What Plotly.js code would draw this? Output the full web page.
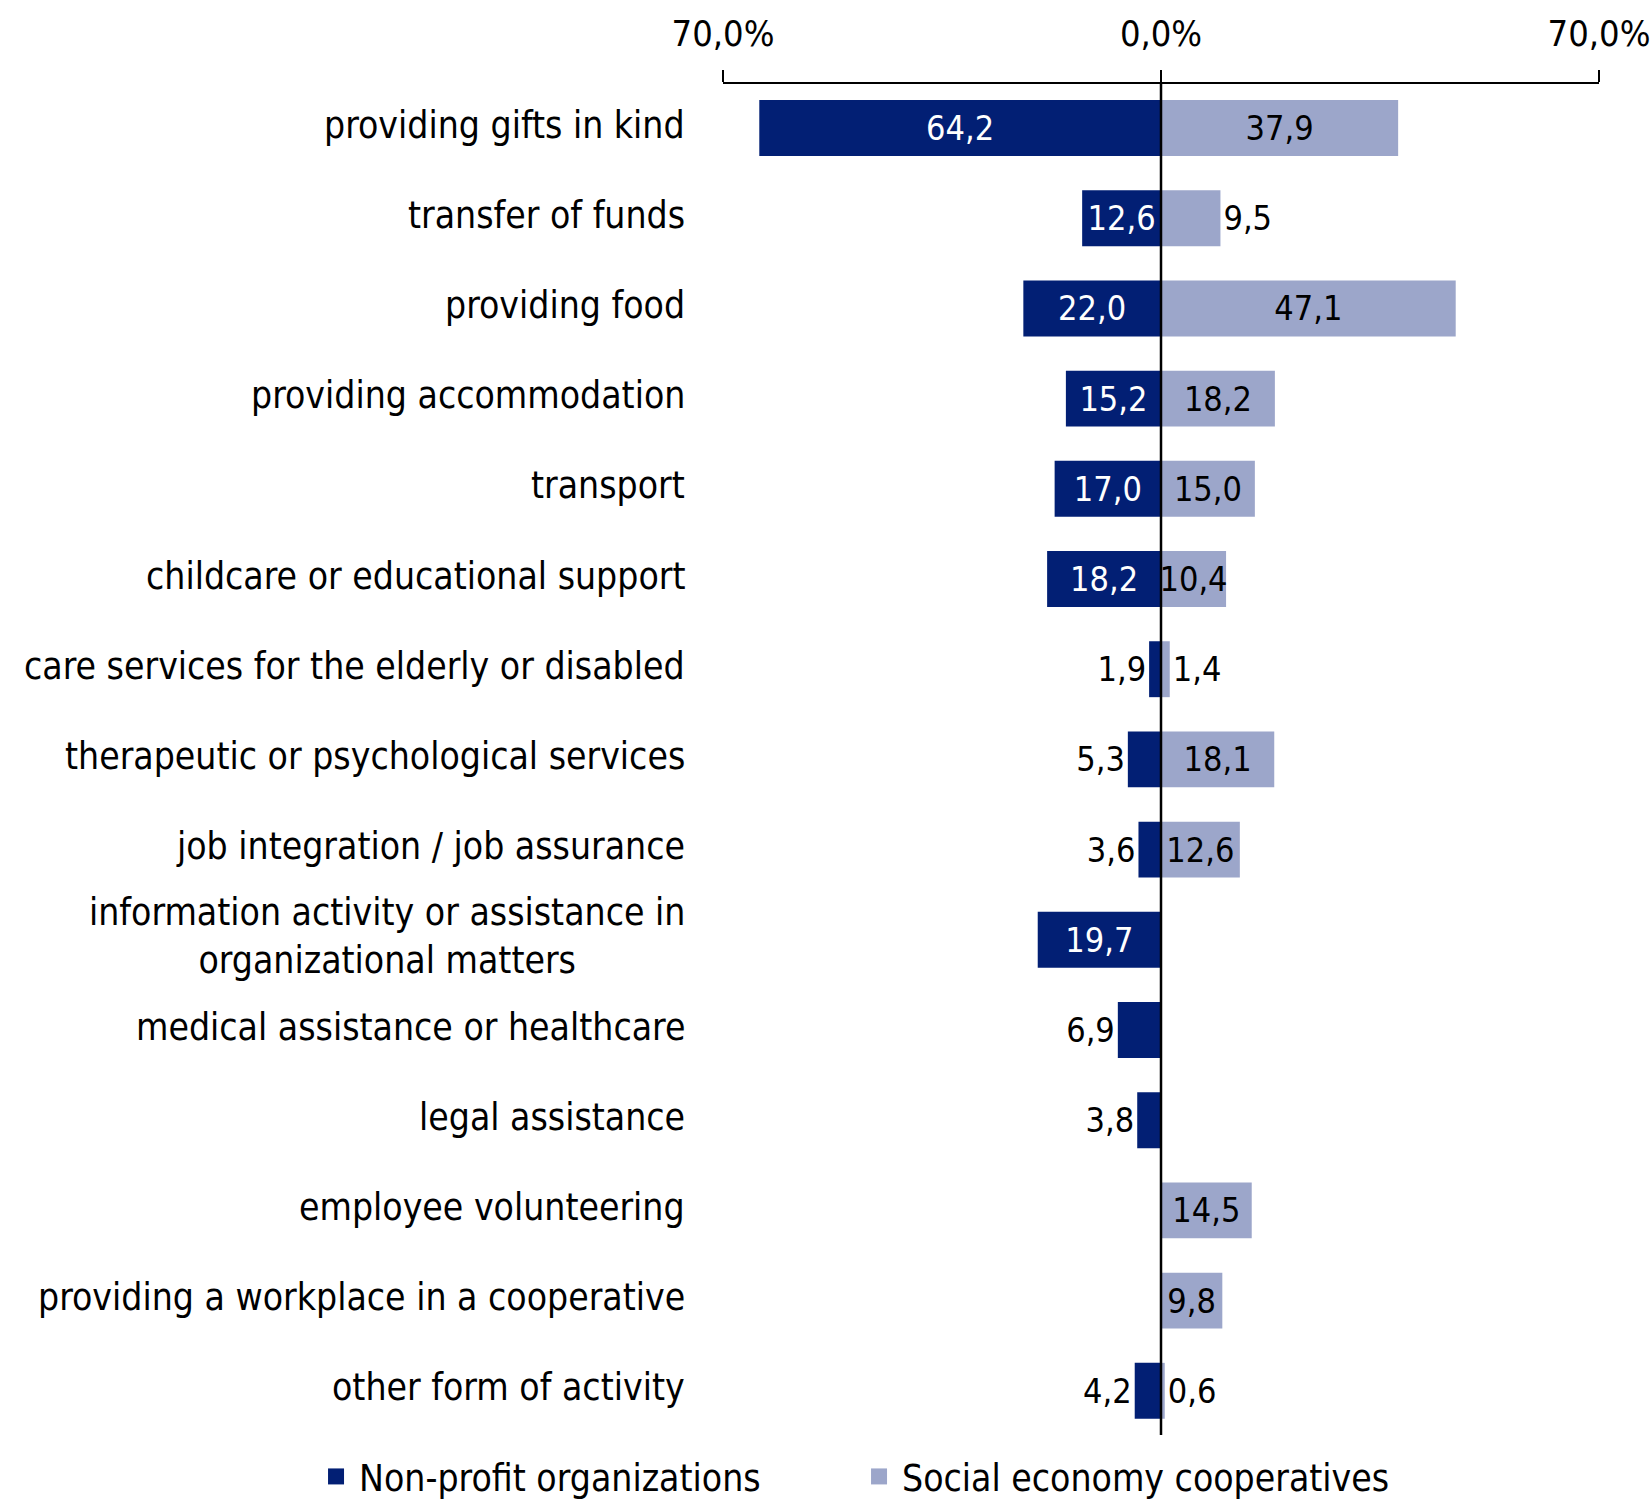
<!DOCTYPE html>
<html>
<head>
<meta charset="utf-8">
<script src="https://cdn.plot.ly/plotly-3.0.1.min.js"></script>
<style>html,body{margin:0;padding:0;background:#fff;}</style>
</head>
<body>
<div id="chart" style="width:1652px;height:1505px;"></div>
<script>
const categories = [
  "providing gifts in kind",
  "transfer of funds",
  "providing food",
  "providing accommodation",
  "transport",
  "childcare or educational support",
  "care services for the elderly or disabled",
  "therapeutic or psychological services",
  "job integration / job assurance",
  "information activity or assistance in<br>organizational matters",
  "medical assistance or healthcare",
  "legal assistance",
  "employee volunteering",
  "providing a workplace in a cooperative",
  "other form of activity"
];
const nonProfit = [64.2, 12.6, 22.0, 15.2, 17.0, 18.2, 1.9, 5.3, 3.6, 19.7, 6.9, 3.8, null, null, 4.2];
const cooperatives = [37.9, 9.5, 47.1, 18.2, 15.0, 10.4, 1.4, 18.1, 12.6, null, null, null, 14.5, 9.8, 0.6];
const seriesNames = ["Non-profit organizations", "Social economy cooperatives"];
const tickVals = [-70, 0, 70];
const tickText = ["70,0%", "0,0%", "70,0%"];

const FONT = "'DejaVu Sans Condensed', 'Liberation Sans Narrow', sans-serif";
const DARK = "#021f74";
const LIGHT = "#9ca6ca";
const idx = categories.map((_, i) => i);
const fmt = v => v == null ? "" : v.toFixed(1).replace(".", ",");

// label placement style (inside the bar when wide enough)
const npPos = nonProfit.map(v => v == null ? "none" : (v >= 9.7 ? "inside" : "outside"));
const coPos = cooperatives.map(v => v == null ? "none" : (v >= 9.7 ? "inside" : "outside"));

const traces = [
  {
    type: "bar", orientation: "h", y: idx,
    x: nonProfit.map(v => v == null ? null : -v),
    marker: {color: DARK},
    text: nonProfit.map(fmt),
    textposition: npPos,
    insidetextanchor: "middle",
    insidetextfont: {color: "#ffffff", size: 34, family: FONT},
    outsidetextfont: {color: "#000000", size: 34, family: FONT},
    cliponaxis: false,
    hoverinfo: "skip",
    showlegend: false
  },
  {
    type: "bar", orientation: "h", y: idx,
    x: cooperatives,
    marker: {color: LIGHT},
    text: cooperatives.map(fmt),
    textposition: coPos,
    insidetextanchor: "middle",
    insidetextfont: {color: "#000000", size: 34, family: FONT},
    outsidetextfont: {color: "#000000", size: 34, family: FONT},
    cliponaxis: false,
    hoverinfo: "skip",
    showlegend: false
  },
  {
    type: "scatter", mode: "markers", x: [null], y: [null], name: seriesNames[0],
    marker: {symbol: "square", size: 22, color: DARK}
  },
  {
    type: "scatter", mode: "markers", x: [null], y: [null], name: seriesNames[1],
    marker: {symbol: "square", size: 22, color: LIGHT}
  }
];

const annotations = categories.map((c, i) => ({
  text: c, x: 0, xref: "paper", y: i, yref: "y",
  xanchor: "right", yanchor: "middle", xshift: -36, yshift: 3,
  align: "center", showarrow: false,
  font: {family: FONT, size: 37, color: "#000"}
}));

const layout = {
  width: 1652, height: 1505,
  margin: {l: 723, r: 53, t: 84, b: 70, autoexpand: false},
  paper_bgcolor: "#fff", plot_bgcolor: "#fff",
  barmode: "relative",
  bargap: 0.38,
  uniformtext: {mode: "show", minsize: 34},
  font: {family: FONT, color: "#000"},
  xaxis: {
    side: "top", range: [-70, 70], tickvals: tickVals, ticktext: tickText,
    showline: true, linecolor: "#000", linewidth: 2,
    ticks: "outside", ticklen: 12, tickcolor: "#000", tickwidth: 2,
    ticklabelstandoff: 10,
    showgrid: false, zeroline: false,
    tickfont: {family: FONT, size: 36, color: "#000"},
    fixedrange: true
  },
  yaxis: {
    range: [14.49, -0.488], showticklabels: false, showgrid: false,
    zeroline: false, showline: false, ticks: "", fixedrange: true
  },
  shapes: [{
    type: "line", xref: "x", yref: "paper", x0: 0, x1: 0, y0: 0, y1: 1,
    line: {color: "#000", width: 2.5}, layer: "above"
  }],
  annotations: annotations,
  showlegend: true,
  legend: {
    orientation: "h", x: -0.468, xanchor: "left",
    y: -0.031, yanchor: "middle",
    font: {family: FONT, size: 37, color: "#000"},
    entrywidth: 492, entrywidthmode: "pixels",
    itemwidth: 36, tracegroupgap: 0, bgcolor: "rgba(0,0,0,0)"
  }
};

Plotly.newPlot("chart", traces, layout, {displayModeBar: false, staticPlot: true});
</script>
</body>
</html>
